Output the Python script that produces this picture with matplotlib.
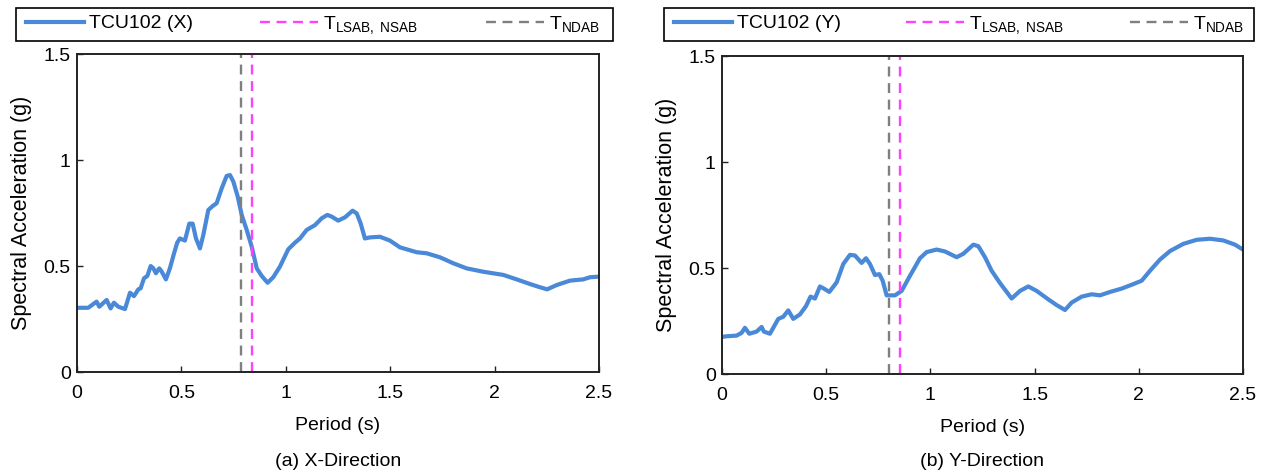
import matplotlib
matplotlib.use('Agg')
import matplotlib.pyplot as plt
from matplotlib.patches import Rectangle
from matplotlib.ticker import FuncFormatter

plt.rcParams['font.family'] = ['Liberation Sans', 'DejaVu Sans']
plt.rcParams['mathtext.fontset'] = 'custom'
plt.rcParams['mathtext.rm'] = 'Liberation Sans'
plt.rcParams['mathtext.it'] = 'Liberation Sans'

# Response spectrum, X direction (period in s, Sa in g)
period_x = [0.0, 0.054, 0.094, 0.107, 0.142, 0.161, 0.177, 0.198, 0.23, 0.254,
            0.273, 0.294, 0.305, 0.321, 0.337, 0.353, 0.366, 0.378, 0.394, 0.405,
            0.426, 0.445, 0.465, 0.48, 0.493, 0.517, 0.538, 0.554, 0.57, 0.589,
            0.605, 0.629, 0.65, 0.669, 0.693, 0.717, 0.733, 0.749, 0.77, 0.789,
            0.813, 0.837, 0.861, 0.885, 0.913, 0.94, 0.972, 1.012, 1.044, 1.068,
            1.1, 1.14, 1.172, 1.199, 1.22, 1.251, 1.284, 1.32, 1.34, 1.359,
            1.379, 1.403, 1.451, 1.499, 1.547, 1.627, 1.675, 1.739, 1.802, 1.866,
            1.946, 2.042, 2.106, 2.17, 2.217, 2.252, 2.297, 2.361, 2.425, 2.457, 2.5]
sa_x = [0.303, 0.303, 0.332, 0.308, 0.34, 0.30, 0.327, 0.308, 0.297, 0.374,
        0.358, 0.39, 0.395, 0.442, 0.453, 0.50, 0.489, 0.466, 0.489, 0.475,
        0.437, 0.489, 0.56, 0.61, 0.63, 0.62, 0.70, 0.70, 0.63, 0.583,
        0.646, 0.764, 0.783, 0.796, 0.866, 0.925, 0.929, 0.898, 0.827, 0.741,
        0.67, 0.591, 0.489, 0.453, 0.421, 0.447, 0.497, 0.579, 0.61, 0.63,
        0.67, 0.693, 0.725, 0.741, 0.733, 0.714, 0.73, 0.761, 0.748, 0.70,
        0.63, 0.635, 0.638, 0.62, 0.588, 0.565, 0.56, 0.541, 0.513, 0.489,
        0.473, 0.458, 0.437, 0.415, 0.40, 0.39, 0.41, 0.431, 0.437, 0.447, 0.45]

# Response spectrum, Y direction
period_y = [0.0, 0.022, 0.07, 0.094, 0.11, 0.131, 0.166, 0.19, 0.201, 0.23,
            0.27, 0.294, 0.318, 0.342, 0.374, 0.403, 0.425, 0.446, 0.47, 0.494,
            0.515, 0.55, 0.582, 0.614, 0.638, 0.67, 0.691, 0.71, 0.734, 0.755,
            0.771, 0.79, 0.83, 0.862, 0.902, 0.95, 0.982, 1.03, 1.07, 1.126,
            1.158, 1.206, 1.23, 1.262, 1.294, 1.334, 1.39, 1.43, 1.47, 1.51,
            1.566, 1.606, 1.646, 1.678, 1.726, 1.774, 1.814, 1.862, 1.918, 1.966,
            2.014, 2.054, 2.102, 2.15, 2.214, 2.278, 2.342, 2.406, 2.462, 2.5]
sa_y = [0.175, 0.178, 0.181, 0.194, 0.218, 0.19, 0.20, 0.222, 0.20, 0.19,
        0.26, 0.27, 0.30, 0.26, 0.281, 0.32, 0.365, 0.356, 0.413, 0.40,
        0.387, 0.432, 0.519, 0.562, 0.559, 0.524, 0.546, 0.519, 0.467, 0.471,
        0.44, 0.371, 0.371, 0.392, 0.463, 0.546, 0.575, 0.587, 0.578, 0.551,
        0.567, 0.61, 0.603, 0.551, 0.487, 0.429, 0.356, 0.392, 0.413, 0.392,
        0.352, 0.325, 0.302, 0.337, 0.365, 0.376, 0.371, 0.387, 0.403, 0.421,
        0.44, 0.487, 0.54, 0.58, 0.614, 0.633, 0.638, 0.63, 0.61, 0.587]

# Building periods
t_lsab = [0.84, 0.855]
t_ndab = [0.785, 0.80]

names = ['TCU102 (X)', 'TCU102 (Y)']
captions = ['(a) X-Direction', '(b) Y-Direction']
periods = [period_x, period_y]
accels = [sa_x, sa_y]

fig = plt.figure(figsize=(12.66, 4.73), dpi=100)
W, H = 1266.0, 473.0

ax_rects = [[0.0608, 0.2135, 0.4123, 0.6723], [0.5703, 0.2093, 0.4115, 0.6723]]
leg_boxes = [[16, 8, 597, 33], [664, 8, 590, 33]]   # frame in pixels: x, top, w, h
leg_span = [[26, 600], [674, 1244]]                # entries run between these x pixels

fmt = FuncFormatter(lambda v, p: '%g' % v)

for i in range(2):
    ax = fig.add_axes(ax_rects[i])
    h1, = ax.plot(periods[i], accels[i], color='#4a88d8', lw=3.0,
                  solid_joinstyle='round', label=names[i])
    h2 = ax.axvline(t_lsab[i], color='#ff40ff', lw=1.7, dashes=(4.2, 2.8),
                    label=r'T$_{\mathrm{LSAB,\ NSAB}}$')
    h3 = ax.axvline(t_ndab[i], color='#7f7f7f', lw=1.7, dashes=(4.2, 2.8),
                    label=r'T$_{\mathrm{NDAB}}$')
    ax.set_xlim(0, 2.5)
    ax.set_ylim(0, 1.5)
    ax.set_xticks([0, 0.5, 1, 1.5, 2, 2.5])
    ax.set_yticks([0, 0.5, 1, 1.5])
    ax.xaxis.set_major_formatter(fmt)
    ax.yaxis.set_major_formatter(fmt)
    ax.tick_params(direction='in', length=4, width=1, colors='#222222',
                   labelcolor='black', labelsize=14)
    ax.tick_params(axis='x', pad=9.5)
    ax.tick_params(axis='y', pad=4.5)
    for s in ax.spines.values():
        s.set_linewidth(1.4)
        s.set_color('#222222')
    ax.set_xlabel('Period (s)', fontsize=14, labelpad=11)
    ax.set_ylabel('Spectral Acceleration (g)', fontsize=15.5)
    ax.yaxis.set_label_coords(-0.087, 0.5)

    bx, by, bw, bh = leg_boxes[i]
    fig.patches.append(Rectangle((bx / W, 1 - (by + bh) / H), bw / W, bh / H,
                                 transform=fig.transFigure, fill=False,
                                 edgecolor='black', lw=1.2))
    x0, x1 = leg_span[i]
    fig.legend(handles=[h1, h2, h3], loc='center left',
               bbox_to_anchor=(x0 / W, 1 - (by + bh) / H, (x1 - x0) / W, bh / H),
               mode='expand', ncol=3, fontsize=14, frameon=False, borderpad=0,
               handlelength=3.0, handletextpad=0.25, borderaxespad=0)

    fig.text(ax_rects[i][0] + ax_rects[i][2] / 2, 1 - 461 / H, captions[i],
             ha='center', va='center', fontsize=14)

fig.savefig('out.png', dpi=100)
